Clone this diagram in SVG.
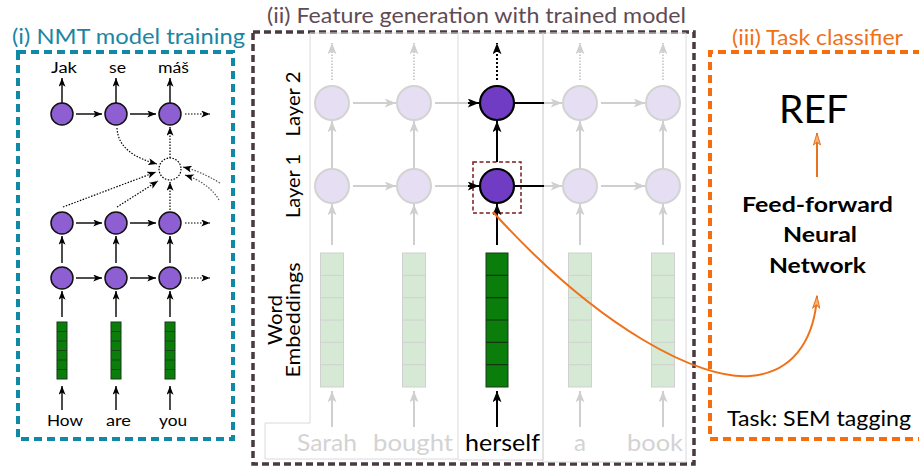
<svg xmlns="http://www.w3.org/2000/svg" width="919" height="468" viewBox="0 0 919 468">
  <defs>
    <style>
      .txt { font-family: Lato, "Noto Sans", "DejaVu Sans", sans-serif; }
      .title { font-size: 21.5px; }
      .small { font-size: 15.5px; fill: #000; }
      .word { font-size: 23.5px; }
      .axis { font-size: 20px; fill: #000; }
      .n1 { fill: #8e5fd2; stroke: #111; stroke-width: 1.5; }
      .n2 { fill: #6f3cc3; stroke: #000; stroke-width: 2.2; }
      .ghost { fill: #e6dff3; stroke: #d3d3d3; stroke-width: 2; }
      .blk { stroke: #000; stroke-width: 1.4; fill: none; }
      .blkd { stroke: #000; stroke-width: 1.2; fill: none; stroke-dasharray: 1.5 1.5; }
      .blk2 { stroke: #000; stroke-width: 2; fill: none; }
      .gry { stroke: #cfcfcf; stroke-width: 2; fill: none; }
      .gryd { stroke: #cfcfcf; stroke-width: 2; fill: none; stroke-dasharray: 1.5 1.5; }
      .emb { fill: #0a7d0a; stroke: #1a3a1a; stroke-width: 1; }
      .embg { fill: #d6e9d5; stroke: #d0d0d0; stroke-width: 1; }
      .frame { fill: none; stroke: #dadada; stroke-width: 1; }
    </style>
    <marker id="ah-s" viewBox="0 0 10 8" refX="10" refY="4" markerWidth="9" markerHeight="7" markerUnits="userSpaceOnUse" orient="auto">
      <path d="M0,0 L10,4 L0,8 L2.5,4 Z" fill="#000"/>
    </marker>
    <marker id="ah-b" viewBox="0 0 10 8" refX="10" refY="4" markerWidth="13" markerHeight="9" markerUnits="userSpaceOnUse" orient="auto">
      <path d="M0,0 L10,4 L0,8 L2.5,4 Z" fill="#000"/>
    </marker>
    <marker id="ah-g" viewBox="0 0 10 8" refX="10" refY="4" markerWidth="13" markerHeight="9" markerUnits="userSpaceOnUse" orient="auto">
      <path d="M0,0 L10,4 L0,8 L2.5,4 Z" fill="#cfcfcf"/>
    </marker>
    <marker id="ah-o" viewBox="0 0 12 8" refX="12" refY="4" markerWidth="14" markerHeight="8" markerUnits="userSpaceOnUse" orient="auto">
      <path d="M0,0.5 L12,4 L0,7.5 L3,4 Z" fill="#f5b27a" stroke="#e8731e" stroke-width="1"/>
    </marker>
  </defs>

  <rect width="919" height="468" fill="#fff"/>

  <!-- ===== (i) NMT model training ===== -->
  <g id="panel-nmt">
    <text class="txt title" x="12" y="44" fill="#1a86a2" textLength="233" lengthAdjust="spacingAndGlyphs">(i) NMT model training</text>
    <rect x="18" y="52" width="215" height="387" fill="none" stroke="#0f89a6" stroke-width="4" stroke-dasharray="8 5"/>
    <g class="txt small">
      <text x="51" y="73" textLength="26" lengthAdjust="spacingAndGlyphs">Jak</text>
      <text x="109" y="73" textLength="17" lengthAdjust="spacingAndGlyphs">se</text>
      <text x="158" y="73" textLength="31" lengthAdjust="spacingAndGlyphs">máš</text>
      <text x="47" y="426" textLength="36" lengthAdjust="spacingAndGlyphs">How</text>
      <text x="106" y="426" textLength="25" lengthAdjust="spacingAndGlyphs">are</text>
      <text x="159" y="426" textLength="28" lengthAdjust="spacingAndGlyphs">you</text>
    </g>
  </g>

  <g id="nmt-decoder">
    <circle class="n1" cx="62" cy="114" r="11"/>
    <circle class="n1" cx="116" cy="114" r="11"/>
    <circle class="n1" cx="170" cy="114" r="11"/>
  </g>
  <g id="nmt-attention">
    <circle cx="170" cy="169" r="11" fill="none" stroke="#000" stroke-width="1.2" stroke-dasharray="1.5 1.5"/>
  </g>
  <g id="nmt-encoder-l2">
    <circle class="n1" cx="62" cy="223" r="11"/>
    <circle class="n1" cx="116" cy="223" r="11"/>
    <circle class="n1" cx="170" cy="223" r="11"/>
  </g>
  <g id="nmt-encoder-l1">
    <circle class="n1" cx="62" cy="278" r="11"/>
    <circle class="n1" cx="116" cy="278" r="11"/>
    <circle class="n1" cx="170" cy="278" r="11"/>
  </g>
  <g id="nmt-embeddings">
    <g transform="translate(57,322)">
      <rect class="emb" width="10" height="57"/>
      <path d="M0,9.5H10M0,19H10M0,28.5H10M0,38H10M0,47.5H10" stroke="#1a3a1a" stroke-width="0.8"/>
    </g>
    <g transform="translate(111,322)">
      <rect class="emb" width="10" height="57"/>
      <path d="M0,9.5H10M0,19H10M0,28.5H10M0,38H10M0,47.5H10" stroke="#1a3a1a" stroke-width="0.8"/>
    </g>
    <g transform="translate(165,322)">
      <rect class="emb" width="10" height="57"/>
      <path d="M0,9.5H10M0,19H10M0,28.5H10M0,38H10M0,47.5H10" stroke="#1a3a1a" stroke-width="0.8"/>
    </g>
  </g>

  <!-- ===== (ii) Feature generation ===== -->
  <g id="panel-features">
    <text class="txt title" x="267" y="23" fill="#5f4b55" textLength="419" lengthAdjust="spacingAndGlyphs">(ii) Feature generation with trained model</text>
    <rect x="253" y="32" width="441" height="432" fill="none" stroke="#4a3940" stroke-width="3.5" stroke-dasharray="7 4"/>
    <path class="frame" d="M310,33 H458 V459 H265 V423 H310 Z"/>
    <path class="frame" d="M458,33 H543 V460 H458"/>
    <path class="frame" d="M543,33 H686 V462 H543 Z"/>
    <g class="txt axis" text-anchor="middle">
      <text transform="translate(300,104) rotate(-90)" textLength="65" lengthAdjust="spacingAndGlyphs">Layer 2</text>
      <text transform="translate(300,186) rotate(-90)" textLength="64" lengthAdjust="spacingAndGlyphs">Layer 1</text>
      <text transform="translate(282,320) rotate(-90)" textLength="50" lengthAdjust="spacingAndGlyphs">Word</text>
      <text transform="translate(300,320) rotate(-90)" textLength="115" lengthAdjust="spacingAndGlyphs">Embeddings</text>
    </g>
    <g class="txt word">
      <text x="297" y="451" fill="#d3d3d3" textLength="60" lengthAdjust="spacingAndGlyphs">Sarah</text>
      <text x="373" y="451" fill="#d3d3d3" textLength="80" lengthAdjust="spacingAndGlyphs">bought</text>
      <text x="465" y="451" fill="#000" textLength="75" lengthAdjust="spacingAndGlyphs">herself</text>
      <text x="574" y="451" fill="#d3d3d3" textLength="12" lengthAdjust="spacingAndGlyphs">a</text>
      <text x="627" y="451" fill="#d3d3d3" textLength="56" lengthAdjust="spacingAndGlyphs">book</text>
    </g>
  </g>

  <g id="feat-layer2">
    <circle class="ghost" cx="332" cy="103" r="17"/>
    <circle class="ghost" cx="414" cy="103" r="17"/>
    <circle class="n2" cx="497" cy="103" r="17"/>
    <circle class="ghost" cx="580" cy="103" r="17"/>
    <circle class="ghost" cx="663" cy="103" r="17"/>
  </g>
  <g id="feat-layer1">
    <circle class="ghost" cx="332" cy="186" r="17"/>
    <circle class="ghost" cx="414" cy="186" r="17"/>
    <circle class="n2" cx="497" cy="186" r="17"/>
    <circle class="ghost" cx="580" cy="186" r="17"/>
    <circle class="ghost" cx="663" cy="186" r="17"/>
    <rect x="473" y="162" width="48" height="51" fill="none" stroke="#7a1c1c" stroke-width="1.5" stroke-dasharray="4 2.5"/>
  </g>
  <g id="feat-embeddings">
    <g transform="translate(320.5,253)">
      <rect class="embg" width="23" height="134"/>
      <path d="M0,22.3H23M0,44.7H23M0,67H23M0,89.3H23M0,111.7H23" stroke="#d0d0d0" stroke-width="1"/>
    </g>
    <g transform="translate(402.5,253)">
      <rect class="embg" width="23" height="134"/>
      <path d="M0,22.3H23M0,44.7H23M0,67H23M0,89.3H23M0,111.7H23" stroke="#d0d0d0" stroke-width="1"/>
    </g>
    <g transform="translate(486,253)">
      <rect class="emb" width="22" height="134"/>
      <path d="M0,22.3H22M0,44.7H22M0,67H22M0,89.3H22M0,111.7H22" stroke="#123512" stroke-width="1.2"/>
    </g>
    <g transform="translate(568.5,253)">
      <rect class="embg" width="23" height="134"/>
      <path d="M0,22.3H23M0,44.7H23M0,67H23M0,89.3H23M0,111.7H23" stroke="#d0d0d0" stroke-width="1"/>
    </g>
    <g transform="translate(651.5,253)">
      <rect class="embg" width="23" height="134"/>
      <path d="M0,22.3H23M0,44.7H23M0,67H23M0,89.3H23M0,111.7H23" stroke="#d0d0d0" stroke-width="1"/>
    </g>
  </g>

  <!-- ===== (iii) Task classifier ===== -->
  <g id="panel-classifier">
    <text class="txt title" x="732" y="45" fill="#f07018" textLength="171" lengthAdjust="spacingAndGlyphs">(iii) Task classifier</text>
    <path d="M921,52 H710 V439 H921" fill="none" stroke="#f56d0c" stroke-width="4" stroke-dasharray="8 5"/>
  </g>
  <g id="cls-output">
    <text class="txt" x="779" y="123" font-size="39" fill="#000" textLength="69" lengthAdjust="spacingAndGlyphs">REF</text>
  </g>
  <g id="cls-ffnn">
    <g class="txt" font-size="21.5" font-weight="bold" fill="#000">
      <text x="742" y="212" textLength="151" lengthAdjust="spacingAndGlyphs">Feed-forward</text>
      <text x="783" y="242" textLength="74" lengthAdjust="spacingAndGlyphs">Neural</text>
      <text x="769" y="273" textLength="97" lengthAdjust="spacingAndGlyphs">Network</text>
    </g>
  </g>
  <g id="cls-task">
    <text class="txt" x="727" y="426" font-size="22" fill="#000" textLength="184" lengthAdjust="spacingAndGlyphs">Task: SEM tagging</text>
  </g>

  <!-- ===== connectors ===== -->
  <g id="connectors">
    <!-- NMT: decoder outputs -->
    <path class="blk" d="M62,103 V78" marker-end="url(#ah-s)"/>
    <path class="blk" d="M116,103 V78" marker-end="url(#ah-s)"/>
    <path class="blk" d="M170,103 V78" marker-end="url(#ah-s)"/>
    <!-- NMT: recurrent links -->
    <path class="blk" d="M76,114 H102" marker-end="url(#ah-s)"/>
    <path class="blk" d="M130,114 H156" marker-end="url(#ah-s)"/>
    <path class="blkd" d="M185,114 H210" marker-end="url(#ah-s)"/>
    <path class="blk" d="M76,223 H102" marker-end="url(#ah-s)"/>
    <path class="blk" d="M130,223 H156" marker-end="url(#ah-s)"/>
    <path class="blkd" d="M185,223 H210" marker-end="url(#ah-s)"/>
    <path class="blk" d="M76,278 H102" marker-end="url(#ah-s)"/>
    <path class="blk" d="M130,278 H156" marker-end="url(#ah-s)"/>
    <path class="blkd" d="M185,278 H210" marker-end="url(#ah-s)"/>
    <!-- NMT: encoder stack -->
    <path class="blk" d="M62,263 V236" marker-end="url(#ah-s)"/>
    <path class="blk" d="M116,263 V236" marker-end="url(#ah-s)"/>
    <path class="blk" d="M170,263 V236" marker-end="url(#ah-s)"/>
    <path class="blk" d="M62,317 V291" marker-end="url(#ah-s)"/>
    <path class="blk" d="M116,317 V291" marker-end="url(#ah-s)"/>
    <path class="blk" d="M170,317 V291" marker-end="url(#ah-s)"/>
    <path class="blk" d="M62,410 V386" marker-end="url(#ah-s)"/>
    <path class="blk" d="M116,410 V386" marker-end="url(#ah-s)"/>
    <path class="blk" d="M170,410 V386" marker-end="url(#ah-s)"/>
    <!-- NMT: attention -->
    <path class="blkd" d="M117,128 C118,148 135,158 157,164" marker-end="url(#ah-s)"/>
    <path class="blkd" d="M63,207 L156,172" marker-end="url(#ah-s)"/>
    <path class="blkd" d="M117,207 L158,181" marker-end="url(#ah-s)"/>
    <path class="blkd" d="M170,210 V182" marker-end="url(#ah-s)"/>
    <path class="blkd" d="M170,158 V127" marker-end="url(#ah-s)"/>
    <path d="M220,183 C205,174 195,170 183,167" fill="none" stroke="#555" stroke-width="1.2" stroke-dasharray="1.5 1.5" marker-end="url(#ah-s)"/>
    <path d="M219,200 C212,188 200,180 185,175" fill="none" stroke="#555" stroke-width="1.2" stroke-dasharray="1.5 1.5" marker-end="url(#ah-s)"/>

    <!-- Features: upward outputs -->
    <path class="gryd" d="M332,80 V43" marker-end="url(#ah-g)"/>
    <path class="gryd" d="M414,80 V43" marker-end="url(#ah-g)"/>
    <path class="blk2" d="M497,80 V43" stroke-dasharray="2 2" marker-end="url(#ah-b)"/>
    <path class="gryd" d="M580,80 V43" marker-end="url(#ah-g)"/>
    <path class="gryd" d="M663,80 V43" marker-end="url(#ah-g)"/>
    <!-- Features: layer 1 to layer 2 -->
    <path class="gry" d="M332,168 V121" marker-end="url(#ah-g)"/>
    <path class="gry" d="M414,168 V121" marker-end="url(#ah-g)"/>
    <path class="blk2" d="M497,162 V121" marker-end="url(#ah-b)"/>
    <path class="gry" d="M580,168 V121" marker-end="url(#ah-g)"/>
    <path class="gry" d="M663,168 V121" marker-end="url(#ah-g)"/>
    <!-- Features: embeddings to layer 1 -->
    <path class="gry" d="M332,245 V204" marker-end="url(#ah-g)"/>
    <path class="gry" d="M414,245 V204" marker-end="url(#ah-g)"/>
    <path class="blk2" d="M497,245 V204" marker-end="url(#ah-b)"/>
    <path class="gry" d="M580,245 V204" marker-end="url(#ah-g)"/>
    <path class="gry" d="M663,245 V204" marker-end="url(#ah-g)"/>
    <!-- Features: words to embeddings -->
    <path class="gry" d="M332,427 V391" marker-end="url(#ah-g)"/>
    <path class="gry" d="M414,427 V391" marker-end="url(#ah-g)"/>
    <path class="blk2" d="M497,427 V391" marker-end="url(#ah-b)"/>
    <path class="gry" d="M580,427 V391" marker-end="url(#ah-g)"/>
    <path class="gry" d="M663,427 V391" marker-end="url(#ah-g)"/>
    <!-- Features: recurrent links, layer 2 -->
    <path class="gry" d="M353,103 H396" marker-end="url(#ah-g)"/>
    <path class="gry" d="M435,103 H470"/>
    <path class="blk2" d="M468,103 H479" marker-end="url(#ah-b)"/>
    <path class="blk2" d="M515,103 H545"/>
    <path class="gry" d="M544,103 H562" marker-end="url(#ah-g)"/>
    <path class="gry" d="M601,103 H645" marker-end="url(#ah-g)"/>
    <!-- Features: recurrent links, layer 1 -->
    <path class="gry" d="M353,186 H396" marker-end="url(#ah-g)"/>
    <path class="gry" d="M435,186 H470"/>
    <path class="blk2" d="M468,186 H479" marker-end="url(#ah-b)"/>
    <path class="blk2" d="M515,186 H545"/>
    <path class="gry" d="M544,186 H562" marker-end="url(#ah-g)"/>
    <path class="gry" d="M601,186 H645" marker-end="url(#ah-g)"/>

    <!-- Hidden state fed to the classifier -->
    <path d="M493,212 C600,330 700,380 750,376 C800,372 815,330 817,296" fill="none" stroke="#f07018" stroke-width="2" marker-end="url(#ah-o)"/>
    <path d="M817,177 V133" fill="none" stroke="#e8731e" stroke-width="2" marker-end="url(#ah-o)"/>
  </g>
</svg>
